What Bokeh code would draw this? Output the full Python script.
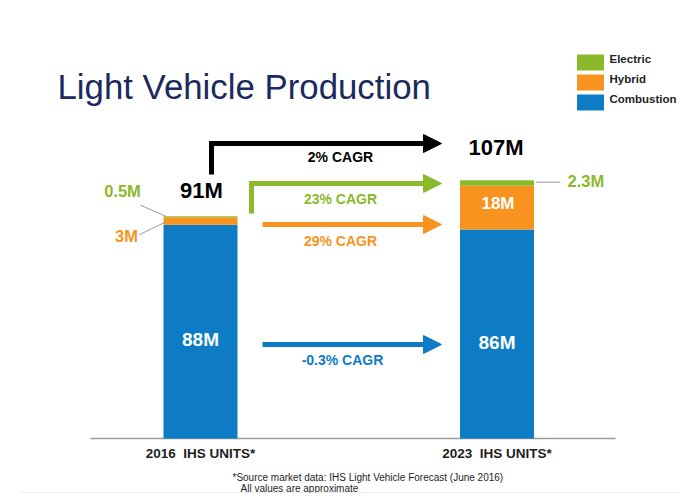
from bokeh.plotting import figure
from bokeh.models import Range1d, ColumnDataSource, Arrow, NormalHead
from bokeh.core.properties import value
from bokeh.embed import file_html
from bokeh.resources import INLINE

# ---------------- data ----------------
title_text = "Light Vehicle Production"
categories = ["2016\u00a0 IHS UNITS*", "2023\u00a0 IHS UNITS*"]
series = ["Electric", "Hybrid", "Combustion"]
combustion = [88, 86]
hybrid = [3, 18]
electric = [0.5, 2.3]
totals = [91, 107]
cagr_labels = ["2% CAGR", "23% CAGR", "29% CAGR", "-0.3% CAGR"]
footnotes = ["*Source market data: IHS Light Vehicle Forecast (June 2016)",
             "All values are approximate"]

# ---------------- style / layout ----------------
BLUE = "#0E7CC5"
ORANGE = "#F7931E"
GREEN = "#8CB82B"
NAVY = "#1B2A5C"
DARK = "#1E1E1E"
GREY = "#9A9A9A"
FONT = "Liberation Sans"

W, H = 692, 493
PX = 2.43          # pixels per million units
BASE = 438         # baseline (page pixel row)


def Y(py):
    """page pixel row -> data value"""
    return (BASE - py) / PX


def D(dpx):
    """pixel distance -> data distance"""
    return dpx / PX


p = figure(width=W, height=H, x_range=Range1d(0, W), y_range=Range1d(Y(H), Y(0)),
           output_backend="svg", toolbar_location=None, min_border=0,
           x_axis_location=None, y_axis_location=None)
p.grid.visible = False
p.outline_line_color = None
p.background_fill_color = "white"

xs = [200, 496.5]
bar_w = 74

# baseline
p.segment(x0=[90], x1=[615], y0=[0], y1=[0], line_color=GREY, line_width=1.5)

src = ColumnDataSource(dict(x=xs, combustion=combustion, hybrid=hybrid, electric=electric))
p.vbar_stack(["combustion", "hybrid", "electric"], x="x", width=bar_w, source=src,
             fill_color=[BLUE, ORANGE, GREEN], line_color=None)

tops = [c + h + e for c, h, e in zip(combustion, hybrid, electric)]

# title
p.text(x=[57], y=[Y(86)], text=[title_text], text_font=value(FONT), text_font_size="34.8px",
       text_color=NAVY, text_align="left", text_baseline="alphabetic")

# category labels
p.text(x=xs, y=[Y(453)] * 2, text=categories, text_font=value(FONT), text_font_size="13.5px",
       text_font_style="bold", text_color=DARK, text_align="center", text_baseline="middle")

# totals
p.text(x=[xs[0] + 1, xs[1] - 1], y=[tops[0] + D(26), tops[1] + D(33)],
       text=[f"{t}M" for t in totals], text_font=value(FONT),
       text_font_size="22px", text_font_style="bold", text_color="black",
       text_align="center", text_baseline="middle")

# combustion labels (inside)
p.text(x=xs, y=[c / 2 - D(8) for c in combustion], text=[f"{c:g}M" for c in combustion],
       text_font=value(FONT), text_font_size="19px", text_font_style="bold",
       text_color="white", text_align="center", text_baseline="middle")

# hybrid 2023 inside
p.text(x=[xs[1] + 1], y=[combustion[1] + hybrid[1] / 2 + D(4)], text=[f"{hybrid[1]:g}M"],
       text_font=value(FONT), text_font_size="17px", text_font_style="bold",
       text_color="white", text_align="center", text_baseline="middle")

# outside labels with leader lines
left_edge = xs[0] - bar_w / 2
p.text(x=[122], y=[tops[0] + D(25)], text=[f"{electric[0]:g}M"], text_font=value(FONT),
       text_font_size="16.5px", text_font_style="bold", text_color=GREEN,
       text_align="center", text_baseline="middle")
p.segment(x0=[140], y0=[tops[0] + D(11)], x1=[left_edge + 2], y1=[tops[0]],
          line_color=GREY, line_width=1)
p.text(x=[126], y=[combustion[0] + D(-11)], text=[f"{hybrid[0]:g}M"], text_font=value(FONT),
       text_font_size="16.5px", text_font_style="bold", text_color=ORANGE,
       text_align="center", text_baseline="middle")
p.segment(x0=[139], y0=[combustion[0] + D(-10)], x1=[left_edge + 2],
          y1=[combustion[0] + hybrid[0] / 2 + D(-1)], line_color=GREY, line_width=1)

right_edge = xs[1] + bar_w / 2
p.text(x=[567], y=[tops[1] - D(0.5)], text=[f"{electric[1]:g}M"], text_font=value(FONT),
       text_font_size="16.5px", text_font_style="bold", text_color=GREEN,
       text_align="left", text_baseline="middle")
p.segment(x0=[right_edge + 2], y0=[tops[1] - D(2)], x1=[560], y1=[tops[1] - D(2)],
          line_color=GREY, line_width=1)

# CAGR arrows
arrow_rows = [143, 183, 224, 344]
text_rows = [156, 198, 240, 359]
arrow_colors = ["black", GREEN, ORANGE, BLUE]
arrow_x0 = [208.5, 248.5, 262, 262]
arrow_x1 = 441
LW = 5

# elbows
p.segment(x0=[211, 251], x1=[211, 251], y0=[Y(174), Y(213)], y1=[Y(140.5), Y(180.5)],
          line_color=["black", GREEN], line_width=LW)

for r, c, x0 in zip(arrow_rows, arrow_colors, arrow_x0):
    p.add_layout(Arrow(end=NormalHead(size=18, fill_color=c, line_color=c, line_width=1),
                       x_start=x0, y_start=Y(r), x_end=arrow_x1, y_end=Y(r),
                       line_color=c, line_width=LW))

p.text(x=[340, 340, 340, 342], y=[Y(t) for t in text_rows], text=cagr_labels,
       text_font=value(FONT), text_font_size="14px", text_font_style="bold",
       text_color=arrow_colors, text_align="center", text_baseline="middle")

# legend (manual)
leg_colors = [GREEN, ORANGE, BLUE]
leg_rows = [62, 82, 102]
p.rect(x=[590] * 3, y=[Y(r) for r in leg_rows], width=27, height=D(16),
       fill_color=leg_colors, line_color=None)
p.text(x=[609] * 3, y=[Y(r - 4) for r in leg_rows], text=series, text_font=value(FONT),
       text_font_size="11.5px", text_font_style="bold", text_color=DARK,
       text_align="left", text_baseline="middle")

# footnotes
p.text(x=[232, 240], y=[Y(477), Y(488)], text=footnotes, text_font=value(FONT),
       text_font_size="10px", text_color=DARK, text_align="left", text_baseline="middle")

# faint dotted rule at the bottom
p.segment(x0=[20], x1=[680], y0=[Y(492)], y1=[Y(492)], line_color="#DDDDDD",
          line_width=1, line_dash="1 1")

open("out.html", "w").write(file_html(p, INLINE))
